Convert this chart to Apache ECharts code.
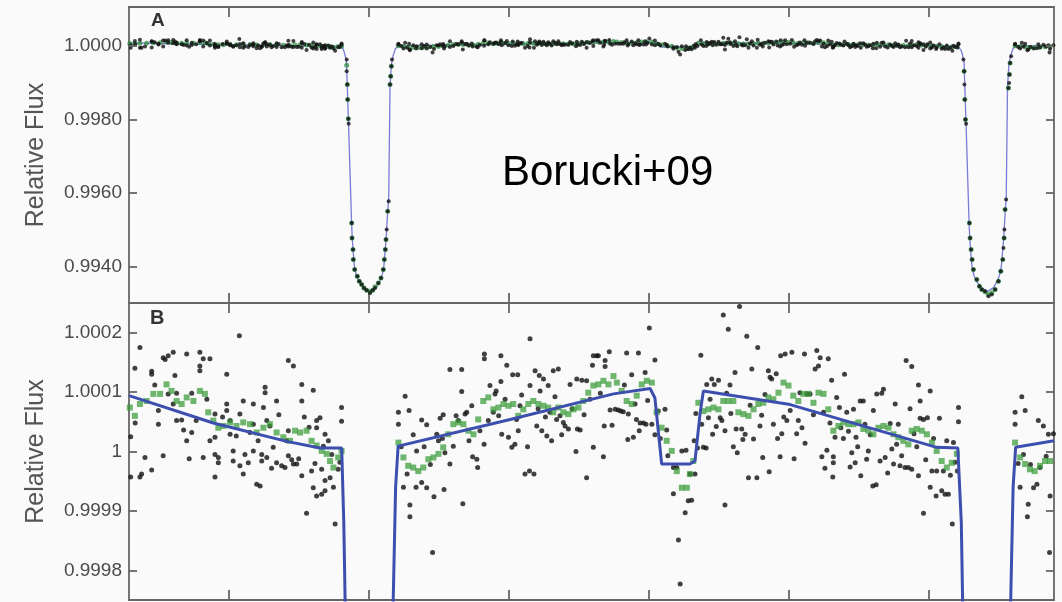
<!DOCTYPE html>
<html><head><meta charset="utf-8">
<script src="https://cdn.jsdelivr.net/npm/echarts@6/dist/echarts.min.js"></script>
<style>html,body{margin:0;padding:0;background:#fafafa}#c{width:1062px;height:602px}</style>
</head><body><div id="c"></div>
<script>
// Readings: x = days from the first transit centre; y = relative flux deviation in ppm (flux = 1 + ppm/1e6).
// The plotted time axis starts its count 1 day before the first transit centre (T_ORIGIN).
const T_ORIGIN = 1;
const xTicks = [0.5, 1, 1.5, 2, 2.5, 3];
const yTicksA = [0.994, 0.996, 0.998, 1.0];
const yTickLabelsA = ['0.9940', '0.9960', '0.9980', '1.0000'];
const yTicksB = [0.9998, 0.9999, 1, 1.0001, 1.0002];
const yTickLabelsB = ['0.9998', '0.9999', '1', '1.0001', '1.0002'];

const blackBefore = [[-0.851,25],[-0.851,-43],[-0.836,140],[-0.818,175],[-0.818,-43],[-0.8,-10],[-0.776,135],[-0.776,130],[-0.776,-31],[-0.752,69],[-0.752,46],[-0.735,158],[-0.735,-7],[-0.717,161],[-0.717,97],[-0.699,167],[-0.699,80],[-0.687,98],[-0.687,52],[-0.669,53],[-0.651,164],[-0.651,18],[-0.633,98],[-0.633,32],[-0.604,167],[-0.604,144],[-0.604,136],[-0.592,156],[-0.592,-10],[-0.568,156],[-0.568,18],[-0.55,63],[-0.55,24],[-0.55,-43],[-0.55,-5],[-0.538,-10],[-0.538,-19],[-0.508,130],[-0.508,80],[-0.508,69],[-0.496,52],[-0.496,29],[-0.485,1],[-0.485,-16],[-0.463,195],[-0.461,63],[-0.461,-24],[-0.449,85],[-0.449,-38],[-0.431,-19],[-0.413,80],[-0.413,46],[-0.413,1],[-0.401,-55],[-0.389,-58],[-0.383,-5],[-0.383,-16],[-0.371,99],[-0.371,108],[-0.365,52],[-0.365,-10],[-0.354,43],[-0.342,7],[-0.33,85],[-0.33,-19],[-0.312,-24],[-0.3,-27],[-0.288,153],[-0.288,35],[-0.288,-7],[-0.27,144],[-0.27,-21],[-0.258,-21],[-0.24,113],[-0.24,85],[-0.24,-41],[-0.223,-104],[-0.205,-33],[-0.199,103],[-0.199,-61],[-0.187,52],[-0.187,40],[-0.187,-75],[-0.175,57],[-0.169,-72],[-0.169,-30],[-0.157,-49],[-0.157,-66],[-0.157,29],[-0.145,18],[-0.133,-5],[-0.121,-122],[-0.11,-30],[-0.098,74],[-0.098,51],
[-0.835,48],[-0.812,-38],[-0.765,112],[-0.728,155],[-0.693,128],[-0.662,36],[-0.642,-12],[-0.617,52],[-0.579,88],[-0.523,58],[-0.474,26],[-0.443,-5],[-0.425,32],[-0.396,18],[-0.377,74],[-0.348,-28],[-0.322,62],[-0.294,18],[-0.276,-14],[-0.251,-12],[-0.231,58],[-0.214,41],[-0.193,-20],[-0.163,9],[-0.139,-44],[-0.127,-60],[-0.104,-18]];

const blackTransit1 = [[-0.0797,-363],[-0.0797,-682],[-0.0774,-1044],[-0.0762,-1454],[-0.0738,-1980],[-0.0726,-2116],[-0.0619,-4816],[-0.0607,-5225],[-0.0571,-5544],[-0.056,-5817],[-0.0512,-6089],[-0.0417,-6272],[-0.0345,-6409],[-0.0262,-6498],[-0.0179,-6589],[-0.0083,-6654],[0.0036,-6725],[0.0131,-6654],[0.0214,-6589],[0.0333,-6452],[0.0429,-6316],[0.0512,-6089],[0.0548,-5817],[0.0583,-5544],[0.0607,-5271],[0.0631,-4999],[0.0667,-4499],[0.0702,-4227],[0.075,-1044],[0.0774,-818],[0.0798,-545],[0.0821,-363]];

const blackBetween = [[0.105,66],[0.105,46],[0.129,93],[0.143,69],[0.123,-60],[0.146,-90],[0.146,-110],[0.170,1],[0.168,-60],[0.188,53],[0.206,45],[0.188,-52],[0.206,-61],[0.227,-170],[0.232,-76],[0.242,29],[0.248,18],[0.254,56],[0.265,62],[0.268,-64],[0.271,-2],[0.289,138],[0.289,-21],[0.311,60],[0.319,52],[0.331,138],[0.331,101],[0.335,-88],[0.343,63],[0.349,66],[0.367,77],[0.370,-9],[0.385,-13],[0.388,-27],[0.412,164],[0.412,156],[0.411,12],[0.432,111],[0.444,66],[0.450,97],[0.454,102],[0.471,161],[0.471,118],[0.474,29],[0.492,145],[0.498,24],[0.510,7],[0.513,129],[0.521,12],[0.531,129],[0.533,35],[0.539,77],[0.545,95],[0.557,-38],[0.573,-33],[0.575,190],[0.575,111],[0.589,-38],[0.593,136],[0.599,43],[0.608,128],[0.611,102],[0.617,35],[0.623,122],[0.635,26],[0.640,111],[0.646,66],[0.652,18],[0.658,136],[0.676,139],[0.670,54],[0.682,60],[0.694,49],[0.700,43],[0.712,38],[0.718,113],[0.742,122],[0.739,0],[0.744,38],[0.754,36],[0.760,120],[0.777,119],[0.777,-44],[0.798,145],[0.801,161],[0.801,7],[0.813,161],[0.819,161],[0.837,-9],[0.843,143],[0.840,43],[0.843,153],[0.858,168],[0.861,70],[0.879,71],[0.890,70],[0.899,68],[0.908,67],[0.920,166],[0.924,20],[0.926,63],[0.938,129],[0.944,24],[0.950,80],[0.962,166],[0.965,35],[0.968,48],[0.980,48],[0.986,133],[0.989,46],[1.001,208],[1.010,46],[1.021,154],[1.021,28],[1.033,68],[1.057,71],[1.063,36],[1.067,-7],[1.087,-27],[1.087,-71],[1.105,-149],[1.111,-223],[1.129,-103],[1.132,2],[1.140,-83],[1.099,-27],[1.117,1],
[0.115,8],[0.136,-38],[0.158,28],[0.197,8],[0.219,-22],[0.262,22],[0.301,9],[0.357,18],[0.396,35],[0.426,52],[0.463,60],[0.486,88],[0.527,54],[0.566,8],[0.604,72],[0.630,58],[0.664,92],[0.688,28],[0.725,72],[0.768,62],[0.789,88],[0.826,98],[0.868,44],[0.912,112],[0.955,54],[0.995,86],[1.040,22],
[1.146,-38],[1.164,-38],[1.152,-82],[1.161,18],[1.167,64],[1.173,6],[1.185,162],[1.188,46],[1.194,7],[1.204,6],[1.206,113],[1.212,57],[1.224,122],[1.227,29],[1.233,113],[1.248,120],[1.254,57],[1.260,52],[1.265,230],[1.271,35],[1.271,-90],[1.283,206],[1.289,112],[1.292,64],[1.307,133],[1.311,38],[1.315,-2],[1.323,244],[1.331,38],[1.335,20],[1.343,29],[1.349,194],[1.355,-44],[1.367,139],[1.373,21],[1.385,-44],[1.388,175],[1.396,43],[1.402,61],[1.406,-10],[1.426,136],[1.429,-34],[1.432,125],[1.438,122],[1.444,46],[1.454,131],[1.468,-9],[1.470,161],[1.474,30],[1.486,164],[1.492,52],[1.504,69],[1.510,167],[1.527,30],[1.533,52],[1.539,99],[1.555,164],[1.557,14],[1.563,97],[1.575,97],[1.593,139],[1.599,170],[1.605,144],[1.611,158],[1.617,-9],[1.623,66],[1.635,2],[1.640,156],[1.652,120],[1.656,-43],[1.658,-9],[1.658,-19],[1.664,24],[1.670,91],[1.680,74],[1.685,40],[1.694,22],[1.698,130],[1.706,66],[1.718,-26],[1.724,-2],[1.730,71],[1.736,-19],[1.739,24],[1.754,85],[1.756,-41],[1.765,85],[1.771,46],[1.777,-13],[1.783,1],[1.799,-58],[1.801,69],[1.811,-56],[1.813,97],[1.825,-16],[1.831,98],[1.837,105],[1.843,-10],[1.861,47],[1.867,4],[1.873,-21],[1.879,80],[1.890,46],[1.896,-24],[1.902,-7],[1.914,-27],[1.918,153],[1.926,-27],[1.938,143],[1.938,-30],[1.946,30],[1.962,112],[1.968,85],[1.968,56],[1.962,-41],[1.980,-104],[1.980,54],[1.994,57],[2.004,102],[2.004,-60],[2.010,-33],[2.025,-75],[2.027,-33],[2.037,56],[2.045,-66],[2.051,-33],[2.057,-72],[2.063,18],[2.069,-72],[2.083,-122],[2.087,15],[2.105,74],[2.105,50],[2.101,-33],
[1.218,88],[1.240,42],[1.277,98],[1.301,8],[1.361,78],[1.414,96],[1.459,22],[1.481,58],[1.518,-12],[1.546,40],[1.587,62],[1.628,-28],[1.646,48],[1.712,34],[1.745,8],[1.790,28],[1.852,-36],[1.884,12],[1.932,72],[1.956,8],[1.988,-14],[2.016,22],[2.076,-40],[2.093,-18]];

const blackTransit2 = [[2.1226,-363],[2.125,-682],[2.1262,-1044],[2.1274,-1454],[2.1298,-2000],[2.1321,-2116],[2.144,-4816],[2.1464,-5225],[2.15,-5544],[2.1536,-5817],[2.1583,-6089],[2.1702,-6362],[2.1798,-6544],[2.1881,-6635],[2.2,-6680],[2.2119,-6816],[2.2238,-6771],[2.2357,-6635],[2.2476,-6407],[2.256,-6135],[2.2631,-5817],[2.2655,-5499],[2.2679,-5225],[2.269,-4999],[2.2714,-4454],[2.275,-4181],[2.2833,-1135],[2.2857,-999],[2.2869,-772],[2.2893,-454],[2.2929,-272]];

const blackAfter = [[2.307,66],[2.307,46],[2.331,92],[2.343,69],[2.325,-60],[2.354,-89],[2.351,-110],[2.373,-61],[2.390,52],[2.408,43],[2.426,29],[2.432,-75],[2.430,-170],[2.385,-55],[2.396,-27],[2.444,30],[2.318,-20],[2.337,-5],[2.362,-22],[2.418,-8]];

const greenBefore = [[-0.854,74],[-0.836,60],[-0.818,80],[-0.794,85],[-0.770,97],[-0.746,97],[-0.723,113],[-0.705,102],[-0.687,85],[-0.669,80],[-0.651,91],[-0.627,85],[-0.604,102],[-0.586,97],[-0.574,66],[-0.556,52],[-0.538,40],[-0.520,43],[-0.496,49],[-0.473,43],[-0.449,49],[-0.425,46],[-0.401,32],[-0.377,40],[-0.354,46],[-0.330,32],[-0.306,24],[-0.282,18],[-0.264,35],[-0.246,32],[-0.223,35],[-0.205,18],[-0.187,10],[-0.169,1],[-0.151,-4],[-0.139,-16],[-0.127,-27],[-0.110,-10],[-0.098,1]];

const greenTransit1 = [[-0.0797,-520],[-0.0774,-1044],[-0.0762,-1454],[-0.0738,-1980],[-0.0619,-4816],[-0.0607,-5225],[-0.0571,-5544],[-0.056,-5817],[-0.0512,-6089],[-0.0417,-6272],[-0.0345,-6409],[-0.0262,-6498],[-0.0179,-6589],[-0.0083,-6654],[0.0036,-6690],[0.0131,-6654],[0.0214,-6560],[0.0333,-6452],[0.0429,-6316],[0.0512,-6089],[0.0548,-5817],[0.0583,-5544],[0.0607,-5271],[0.0667,-4499],[0.075,-1044],[0.0774,-818],[0.0798,-545]];

const greenBetween = [[0.105,15],[0.123,-10],[0.140,-24],[0.158,-27],[0.176,-33],[0.194,-27],[0.212,-13],[0.230,-10],[0.248,-4],[0.265,7],[0.283,29],[0.301,46],[0.319,49],[0.337,46],[0.355,35],[0.373,29],[0.390,54],[0.408,85],[0.426,91],[0.444,71],[0.462,74],[0.480,80],[0.498,77],[0.515,80],[0.533,60],[0.551,71],[0.569,80],[0.587,85],[0.605,80],[0.623,77],[0.640,74],[0.658,66],[0.676,74],[0.694,66],[0.712,63],[0.730,71],[0.748,74],[0.765,85],[0.783,99],[0.801,111],[0.819,113],[0.837,119],[0.855,113],[0.873,127],[0.885,116],[0.902,102],[0.920,85],[0.938,80],[0.956,94],[0.974,113],[0.992,119],[1.010,116],[1.027,66],[1.045,40],[1.063,18],[1.081,1],[1.099,-33],[1.117,-61],[1.135,-61],[1.146,-38],
[1.158,-16],[1.176,82],[1.194,68],[1.212,71],[1.230,74],[1.248,71],[1.265,85],[1.283,85],[1.301,85],[1.319,66],[1.337,63],[1.355,60],[1.373,71],[1.390,80],[1.408,82],[1.426,91],[1.444,88],[1.462,99],[1.480,116],[1.498,111],[1.515,94],[1.533,85],[1.551,97],[1.569,97],[1.587,82],[1.605,99],[1.623,97],[1.640,71],[1.658,35],[1.676,43],[1.694,49],[1.712,46],[1.730,46],[1.748,49],[1.765,38],[1.783,35],[1.801,29],[1.819,40],[1.837,43],[1.855,40],[1.873,29],[1.890,24],[1.908,18],[1.926,12],[1.938,35],[1.956,38],[1.974,35],[1.992,29],[2.010,15],[2.027,1],[2.045,-16],[2.063,-27],[2.081,-19],[2.099,-4]];

const greenTransit2 = [[2.125,-682],[2.1274,-1454],[2.1298,-2000],[2.144,-4816],[2.1464,-5225],[2.15,-5544],[2.1536,-5817],[2.1583,-6089],[2.1702,-6362],[2.1798,-6544],[2.1881,-6635],[2.2,-6700],[2.2119,-6760],[2.2238,-6720],[2.2357,-6635],[2.2476,-6407],[2.256,-6135],[2.2631,-5817],[2.2679,-5225],[2.2714,-4454],[2.2833,-1135],[2.2869,-772],[2.2893,-454]];

const greenAfter = [[2.307,15],[2.325,-10],[2.343,-21],[2.360,-30],[2.377,-33],[2.396,-24],[2.414,-16],[2.432,-16]];

const modelCurve = [[-0.857,94],[-0.556,48],[-0.294,17],[-0.175,6],[-0.0975,6],[-0.090,-120],[-0.085,-260],[-0.080,-450],[-0.0775,-1100],[-0.074,-1900],[-0.0725,-2250],[-0.0625,-4750],[-0.060,-5200],[-0.057,-5550],[-0.052,-6000],[-0.045,-6250],[-0.035,-6420],[-0.020,-6580],[0.004,-6680],[0.025,-6580],[0.040,-6380],[0.048,-6200],[0.053,-6000],[0.058,-5550],[0.062,-5150],[0.066,-4600],[0.0705,-4100],[0.075,-1100],[0.080,-500],[0.086,-260],[0.095,-60],[0.104,9],
[0.504,54],[0.873,97],[1.004,106],[1.021,90],[1.045,-21],[1.146,-21],[1.164,-16],[1.182,63],[1.194,102],[1.504,79],[1.742,46],[2.027,7],[2.1025,6],
[2.115,-120],[2.120,-260],[2.125,-450],[2.1275,-1100],[2.131,-1900],[2.1325,-2250],[2.1425,-4750],[2.145,-5200],[2.148,-5550],[2.153,-6000],[2.160,-6250],[2.170,-6420],[2.185,-6580],[2.209,-6680],[2.230,-6580],[2.245,-6380],[2.253,-6200],[2.258,-6000],[2.263,-5550],[2.267,-5150],[2.271,-4600],[2.2755,-4100],[2.280,-1100],[2.285,-500],[2.291,-260],[2.300,-60],[2.309,7],[2.446,18]];

const toPoint = p => [p[0] + T_ORIGIN, 1 + p[1] * 1e-6];
const black = [].concat(blackBefore, blackTransit1, blackBetween, blackTransit2, blackAfter).map(toPoint);
const green = [].concat(greenBefore, greenTransit1, greenBetween, greenTransit2, greenAfter).map(toPoint);
const model = modelCurve.map(toPoint);

const FONT = "'Liberation Sans', Arial, Helvetica, sans-serif";
const AX = '#666666';
const X_MIN = 0.143, X_MAX = 3.446;
const PLOT_W = 925;
const Y_TICK_PX = 8;
const lab = (ticks, labels) => v => { const i = ticks.findIndex(t => Math.abs(t - v) < 1e-9); return i >= 0 ? labels[i] : ''; };

// short inward tick marks on both vertical edges, placed through the axes' own scales
const tickDx = (X_MAX - X_MIN) * Y_TICK_PX / PLOT_W;
const edgeTicks = ticks => [].concat(
  ticks.map(t => [{ coord: [X_MIN, t] }, { coord: [X_MIN + tickDx, t] }]),
  ticks.map(t => [{ coord: [X_MAX - tickDx, t] }, { coord: [X_MAX, t] }])
);
const tickMarkLine = ticks => ({ silent: true, symbol: ['none', 'none'], animation: false, label: { show: false },
  lineStyle: { color: AX, width: 1.8, type: 'solid' }, emphasis: { disabled: true }, data: edgeTicks(ticks) });

function xAx(grid, pos) {
  return { type: 'value', gridIndex: grid, position: pos, min: X_MIN, max: X_MAX,
    axisLine: { show: true, onZero: false, lineStyle: { color: AX, width: 1.8 } }, axisLabel: { show: false }, splitLine: { show: false },
    axisTick: { show: true, inside: true, length: 10, customValues: xTicks, lineStyle: { color: AX, width: 1.8 } } };
}
function yMain(grid, min, max, ticks, labels) {
  return { type: 'value', gridIndex: grid, position: 'left', min: min, max: max,
    axisLine: { show: true, onZero: false, lineStyle: { color: AX, width: 1.8 } }, splitLine: { show: false },
    axisTick: { show: false },
    axisLabel: { show: true, customValues: ticks, formatter: lab(ticks, labels), fontSize: 19, color: '#4a4a4a', fontFamily: FONT, margin: 7 },
    name: 'Relative Flux', nameLocation: 'middle', nameGap: 80,
    nameTextStyle: { fontSize: 25, color: '#555', fontFamily: FONT } };
}
function yRight(grid, min, max) {
  return { type: 'value', gridIndex: grid, position: 'right', min: min, max: max,
    axisLine: { show: true, onZero: false, lineStyle: { color: AX, width: 1.8 } }, splitLine: { show: false },
    axisTick: { show: false }, axisLabel: { show: false } };
}

const chart = echarts.init(document.getElementById('c'), null, { renderer: 'canvas' });
chart.setOption({
  backgroundColor: '#fafafa',
  animation: false,
  grid: [
    { left: 129, top: 7, width: PLOT_W, height: 296, show: false },
    { left: 129, top: 303, width: PLOT_W, height: 297, show: false }
  ],
  xAxis: [xAx(0, 'bottom'), xAx(0, 'top'), xAx(1, 'bottom'), xAx(1, 'top')],
  yAxis: [
    yMain(0, 0.99300, 1.00107, yTicksA, yTickLabelsA),
    yRight(0, 0.99300, 1.00107),
    yMain(1, 0.99975, 1.00025, yTicksB, yTickLabelsB),
    yRight(1, 0.99975, 1.00025)
  ],
  series: [
    { type: 'line', xAxisIndex: 0, yAxisIndex: 0, data: model, showSymbol: false, lineStyle: { color: '#7a7ad8', width: 1.3 }, z: 2, clip: true, markLine: tickMarkLine(yTicksA) },
    { type: 'scatter', xAxisIndex: 0, yAxisIndex: 0, data: green, symbolSize: 5, itemStyle: { color: 'rgba(40,140,60,0.9)' }, z: 3 },
    { type: 'scatter', xAxisIndex: 0, yAxisIndex: 0, data: black, symbolSize: 4, itemStyle: { color: '#111' }, z: 4 },
    { type: 'scatter', xAxisIndex: 2, yAxisIndex: 2, data: black, symbolSize: 5, itemStyle: { color: '#111' }, z: 2 },
    { type: 'scatter', xAxisIndex: 2, yAxisIndex: 2, data: green, symbolSize: 6, symbol: 'rect', itemStyle: { color: 'rgba(55,155,55,0.9)' }, z: 3 },
    { type: 'line', xAxisIndex: 2, yAxisIndex: 2, data: model, showSymbol: false, lineStyle: { color: '#3d4fae', width: 3 }, z: 4, clip: true, markLine: tickMarkLine(yTicksB) }
  ],
  graphic: [
    { type: 'text', x: 502, y: 173, style: { text: 'Borucki+09', fontSize: 42, fontFamily: FONT, fill: '#000', verticalAlign: 'middle', textVerticalAlign: 'middle' } },
    { type: 'text', x: 151, y: 21, style: { text: 'A', fontSize: 19, fontWeight: 'bold', fontFamily: FONT, fill: '#333', verticalAlign: 'middle', textVerticalAlign: 'middle' } },
    { type: 'text', x: 150, y: 318, style: { text: 'B', fontSize: 20, fontWeight: 'bold', fontFamily: FONT, fill: '#333', verticalAlign: 'middle', textVerticalAlign: 'middle' } }
  ]
});
</script></body></html>
